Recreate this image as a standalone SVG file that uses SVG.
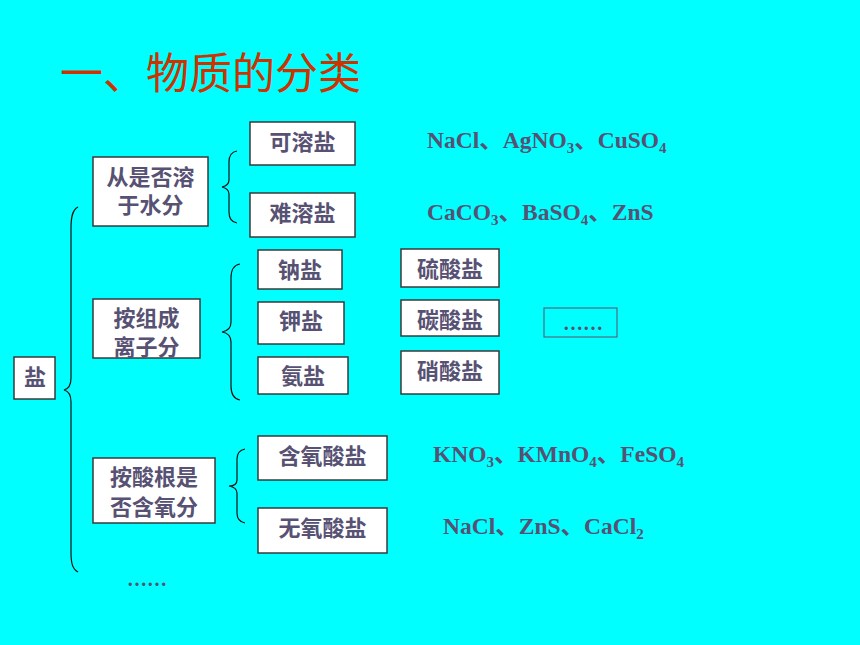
<svg xmlns="http://www.w3.org/2000/svg" width="860" height="645" viewBox="0 0 860 645">
<style>
.box{fill:#ffffff;stroke:#3a3a3a;stroke-width:1.5}
.t{font-family:"Noto Sans CJK SC","Noto Sans",sans-serif;font-size:22px;font-weight:bold;fill:#575173;text-anchor:middle}
.f{font-family:"Liberation Serif","Noto Sans CJK SC",serif;font-size:23.5px;font-weight:bold;fill:#575173}
.s{font-size:15px}
.brace{fill:none;stroke:#111111;stroke-width:1.2}
</style>
<rect width="860" height="645" fill="#00ffff"/>
<text x="60" y="89" font-family="Noto Sans CJK SC,sans-serif" font-size="43" fill="#cc3300">一、物质的分类</text>

<g id="connectors">
<path class="brace" d="M78,207 C72,210 71,218 71,228 L71,378 C71,386 68,389 64,390 C68,391 71,394 71,402 L71,552 C71,562 72,569 78,572"/>
<path class="brace" d="M237,151 C231,152 229,156 229,162 L229,180 C229,184 226,186 222,187 C226,188 229,190 229,194 L229,212 C229,218 231,222 237,223"/>
<path class="brace" d="M240,264 C234,265 231,270 231,278 L231,322 C231,328 228,331 222,332 C228,333 231,336 231,342 L231,386 C231,394 234,399 240,400"/>
<path class="brace" d="M245,449 C240,450 237,453 237,459 L237,480 C237,484 234,486 229,486 C234,487 237,489 237,493 L237,513 C237,519 240,522 245,523"/>
</g>

<g id="salt"><rect class="box" x="14" y="357" width="41" height="42"/><text class="t" x="35" y="385">盐</text></g>

<g id="by-solubility"><rect class="box" x="93" y="157" width="115" height="69"/><text class="t" x="150.5" y="185">从是否溶</text><text class="t" x="150.5" y="213">于水分</text></g>
<g id="soluble"><rect class="box" x="250" y="122" width="105" height="43"/><text class="t" x="302.5" y="150">可溶盐</text></g>
<g id="insoluble"><rect class="box" x="250" y="193" width="105" height="44"/><text class="t" x="302.5" y="221">难溶盐</text></g>

<g id="by-ion"><rect class="box" x="93" y="299" width="107" height="59"/><text class="t" x="146.5" y="326">按组成</text><text class="t" x="146.5" y="355">离子分</text></g>
<g id="sodium"><rect class="box" x="258" y="250" width="84" height="39"/><text class="t" x="300" y="278">钠盐</text></g>
<g id="potassium"><rect class="box" x="258" y="302" width="86" height="42"/><text class="t" x="301" y="329">钾盐</text></g>
<g id="ammonium"><rect class="box" x="258" y="357" width="90" height="37"/><text class="t" x="303" y="384">氨盐</text></g>
<g id="sulfate"><rect class="box" x="401" y="249" width="98" height="38"/><text class="t" x="450" y="277">硫酸盐</text></g>
<g id="carbonate"><rect class="box" x="401" y="300" width="98" height="36"/><text class="t" x="450" y="328">碳酸盐</text></g>
<g id="nitrate"><rect class="box" x="401" y="351" width="98" height="43"/><text class="t" x="450" y="379">硝酸盐</text></g>
<g id="more"><rect x="544" y="308" width="73" height="29" fill="none" stroke="#4d6c80" stroke-width="1.2"/><text x="583" y="330" font-family="Liberation Serif,serif" font-size="20" font-weight="bold" fill="#575173" text-anchor="middle">……</text></g>

<g id="by-oxygen"><rect class="box" x="93" y="458" width="122" height="65"/><text class="t" x="154" y="485">按酸根是</text><text class="t" x="154" y="515">否含氧分</text></g>
<g id="oxy"><rect class="box" x="258" y="436" width="129" height="44"/><text class="t" x="322.5" y="464">含氧酸盐</text></g>
<g id="nonoxy"><rect class="box" x="258" y="508" width="129" height="45"/><text class="t" x="322.5" y="536">无氧酸盐</text></g>

<text class="f" x="427" y="148">NaCl、AgNO<tspan class="s" dy="5">3</tspan><tspan dy="-5">、CuSO</tspan><tspan class="s" dy="5">4</tspan></text>
<text class="f" x="427" y="220">CaCO<tspan class="s" dy="5">3</tspan><tspan dy="-5">、BaSO</tspan><tspan class="s" dy="5">4</tspan><tspan dy="-5">、ZnS</tspan></text>
<text class="f" x="433" y="462">KNO<tspan class="s" dy="5">3</tspan><tspan dy="-5">、KMnO</tspan><tspan class="s" dy="5">4</tspan><tspan dy="-5">、FeSO</tspan><tspan class="s" dy="5">4</tspan></text>
<text class="f" x="443" y="534">NaCl、ZnS、CaCl<tspan class="s" dy="5">2</tspan></text>
<text x="147" y="586" font-family="Liberation Serif,serif" font-size="20" font-weight="bold" fill="#575173" text-anchor="middle">……</text>
</svg>
